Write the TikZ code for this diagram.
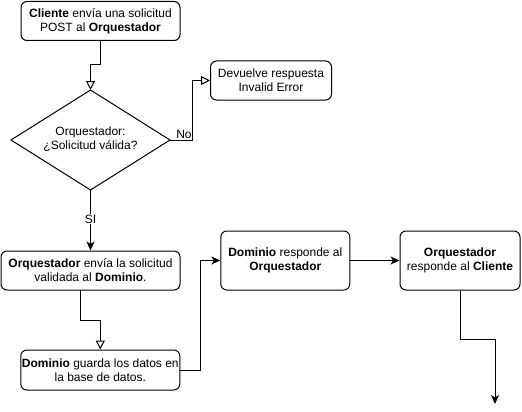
\documentclass[tikz,border=0pt]{standalone}
\usepackage{fontspec}
\setmainfont{Liberation Sans}
\usetikzlibrary{arrows.meta}
\begin{document}
\begin{tikzpicture}[x=1pt,y=-1pt,
  box/.style={draw,rounded corners=6pt,line width=1pt,align=center,inner sep=0pt,
    font=\fontsize{12}{14}\selectfont},
  conn/.style={line width=1pt},
  openarr/.style={conn,-{Triangle[open,length=9pt,width=9pt]}},
  fillarr/.style={conn,-{Stealth[length=9pt,width=8pt,inset=2.5pt]}},
  lbl/.style={font=\fontsize{12}{14}\selectfont,inner sep=1pt}]
\useasboundingbox (0,0) rectangle (522,412);
\node[box,minimum width=159pt,minimum height=39pt] (n1) at (100.5,21)
  {\textbf{Cliente} envía una solicitud\\POST al \textbf{Orquestador}};
% decision diamond
\coordinate (dN) at (90.5,90);
\coordinate (dE) at (170,140);
\coordinate (dS) at (90.5,190);
\coordinate (dW) at (11,140);
\draw[line width=1pt] (dN) -- (dE) -- (dS) -- (dW) -- cycle;
\node[lbl,align=center] (d) at (90.5,139) {Orquestador:\\¿Solicitud válida?};
\node[box,minimum width=121pt,minimum height=39pt] (err) at (271,80.5)
  {Devuelve respuesta\\Invalid Error};
\node[box,minimum width=179pt,minimum height=39pt] (n3) at (90.5,270.5)
  {\textbf{Orquestador} envía la solicitud\\validada al \textbf{Dominio}.};
\node[box,minimum width=159pt,minimum height=40pt] (n4) at (100.3,370)
  {\textbf{Dominio} guarda los datos en\\la base de datos.};
\node[box,minimum width=129pt,minimum height=59pt] (n5) at (285.3,260.5)
  {\textbf{Dominio} responde al\\\textbf{Orquestador}};
\node[box,minimum width=120pt,minimum height=59pt] (n6) at (460,260.5)
  {\textbf{Orquestador}\\responde al \textbf{Cliente}};
\coordinate (endpt) at (495,404);

\draw[openarr] (n1.south) -- (n1.south |- 0,65) -- (dN |- 0,65) -- (dN);
\draw[openarr] (dE) -- (192,140) -- (192,80.5) -- (err.west);
\node[lbl] (lno) at (184,134) {No};
\draw[fillarr] (dS) -- (n3.north);
\node[lbl,fill=white] (lsi) at (90.5,219) {SI};
\draw[openarr] (80.7,290) -- (80.7,320.7) -- (n4.north |- 0,320.7) -- (n4.north);
\draw[fillarr] (n4.east) -- (200,370) -- (200,260.5) -- (n5.west);
\draw[fillarr] (n5.east) -- (n6.west);
\draw[fillarr] (n6.south) -- (460,339) -- (495,339) -- (endpt);
\end{tikzpicture}
\end{document}
